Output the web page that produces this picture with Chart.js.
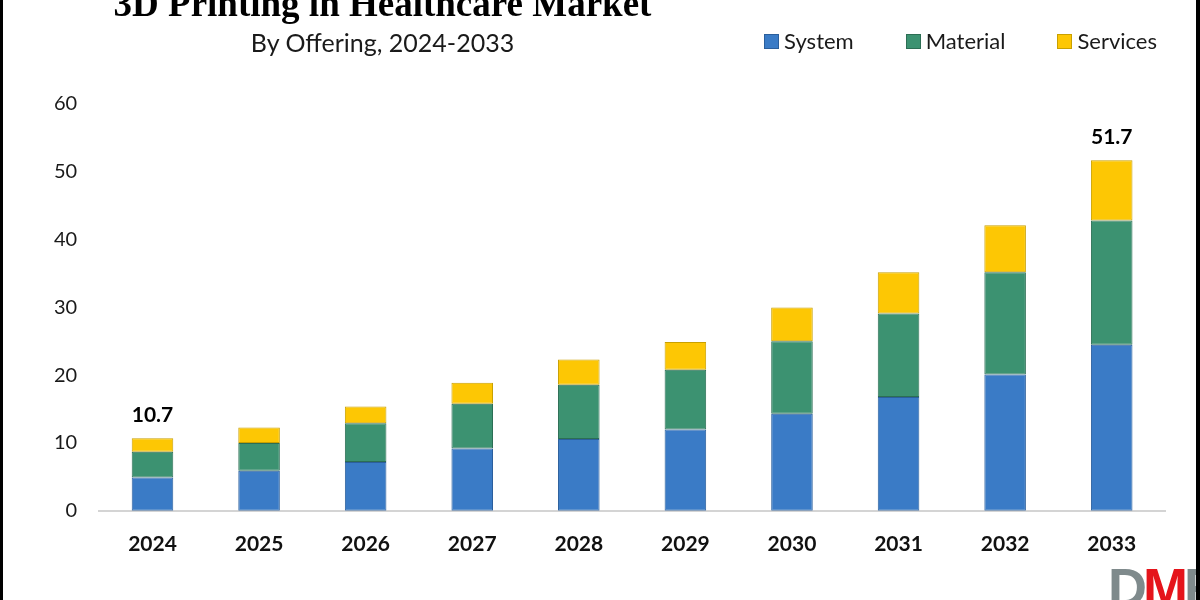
<!DOCTYPE html>
<html>
<head>
<meta charset="utf-8">
<script src="https://cdn.jsdelivr.net/npm/chart.js@4.4.1/dist/chart.umd.min.js"></script>
<style>
html, body { margin: 0; padding: 0; }
body { width: 1200px; height: 600px; overflow: hidden; background: #fff; position: relative; font-family: Lato, "Open Sans", sans-serif; }
#marco { position: absolute; left: 0; top: 0; width: 1200px; height: 600px; box-sizing: border-box; border-left: 3px solid #000; border-right: 4px solid #000; pointer-events: none; z-index: 5; }
#caja { position: absolute; left: 0; top: 0; width: 1200px; height: 600px; }
#titulo { position: absolute; left: 0; width: 765px; top: -14px; text-align: center; font-family: "Liberation Serif", "DejaVu Serif", serif; font-weight: bold; font-size: 37px; line-height: 36px; color: #000; white-space: nowrap; }
#subtitulo { position: absolute; left: 0; width: 765px; top: 30px; text-align: center; font-size: 25px; line-height: 25px; color: #1a1a1a; white-space: nowrap; }
#leyenda { position: absolute; right: 43px; top: 29px; display: flex; gap: 52px; font-size: 22px; line-height: 24px; color: #1a1a1a; }
#leyenda span.item { display: flex; align-items: center; gap: 5px; }
#leyenda span.caja { display: inline-block; width: 13px; height: 13px; }
#logo { position: absolute; left: 1108px; top: 560px; font-family: "Liberation Sans", Arial, sans-serif; font-weight: bold; font-size: 54px; line-height: 54px; letter-spacing: -4px; color: #7f8a8c; white-space: nowrap; }
#logo b { color: #e5141b; }
</style>
</head>
<body>
<div id="caja"><canvas id="graficaOferta"></canvas></div>
<div id="titulo">3D Printing in Healthcare Market</div>
<div id="subtitulo">By Offering, 2024-2033</div>
<div id="leyenda"></div>
<div id="logo">D<b>M</b>R</div>
<div id="marco"></div>
<script>
const anios = ["2024", "2025", "2026", "2027", "2028", "2029", "2030", "2031", "2032", "2033"];

const sistema = [4.9, 5.9, 7.2, 9.2, 10.6, 12.0, 14.3, 16.8, 20.1, 24.5];
const material = [3.8, 4.1, 5.7, 6.6, 8.0, 8.8, 10.7, 12.3, 15.1, 18.3];
const servicios = [2.0, 2.3, 2.5, 3.1, 3.7, 4.1, 5.0, 6.1, 6.9, 8.9];

const totales = ["10.7", null, null, null, null, null, null, null, null, "51.7"];

const ticksY = [0, 10, 20, 30, 40, 50, 60];

const series = [
  { label: "System", data: sistema, color: "#3a7bc6", borde: "#2b5f9c" },
  { label: "Material", data: material, color: "#3c9271", borde: "#2c6e54" },
  { label: "Services", data: servicios, color: "#fdc704", borde: "#c9a000" }
];

// leyenda arriba a la derecha
const leyenda = document.getElementById("leyenda");
series.forEach(s => {
  const item = document.createElement("span");
  item.className = "item";
  item.innerHTML = '<span class="caja" style="background:' + s.color + ';border:1px solid ' + s.borde + '"></span>' + s.label;
  leyenda.appendChild(item);
});

const etiquetasTotal = {
  id: "etiquetasTotal",
  afterDatasetsDraw(chart) {
    const ctx = chart.ctx;
    const meta = chart.getDatasetMeta(chart.data.datasets.length - 1);
    ctx.save();
    ctx.font = "bold 21px Lato";
    ctx.fillStyle = "#000";
    ctx.textAlign = "center";
    ctx.textBaseline = "alphabetic";
    meta.data.forEach((barra, i) => {
      if (totales[i]) ctx.fillText(totales[i], barra.x, barra.y - 16);
    });
    ctx.restore();
  }
};

const ctx = document.getElementById("graficaOferta");

new Chart(ctx, {
  type: "bar",
  data: {
    labels: anios,
    datasets: series.map(s => ({
      label: s.label,
      data: s.data,
      backgroundColor: s.color,
      borderColor: s.borde,
      borderWidth: 1,
      borderSkipped: false,
      barPercentage: 0.39,
      categoryPercentage: 1
    }))
  },
  options: {
    responsive: true,
    maintainAspectRatio: false,
    animation: false,
    layout: {
      padding: { left: 32, right: 35, top: 104, bottom: 22 }
    },
    plugins: {
      legend: { display: false },
      tooltip: { enabled: false }
    },
    scales: {
      x: {
        stacked: true,
        grid: { display: false, drawTicks: false },
        border: { display: true, color: "#d4d4d4", width: 2 },
        ticks: {
          padding: 21,
          color: "#111",
          font: { family: "Lato", size: 21, weight: "bold" }
        }
      },
      y: {
        stacked: true,
        min: 0,
        max: 60,
        afterBuildTicks: scale => { scale.ticks = ticksY.map(v => ({ value: v })); },
        grid: { display: false, drawTicks: false },
        border: { display: false },
        ticks: {
          padding: 22,
          color: "#1a1a1a",
          font: { family: "Lato", size: 20 }
        }
      }
    }
  },
  plugins: [etiquetasTotal]
});
</script>
</body>
</html>
